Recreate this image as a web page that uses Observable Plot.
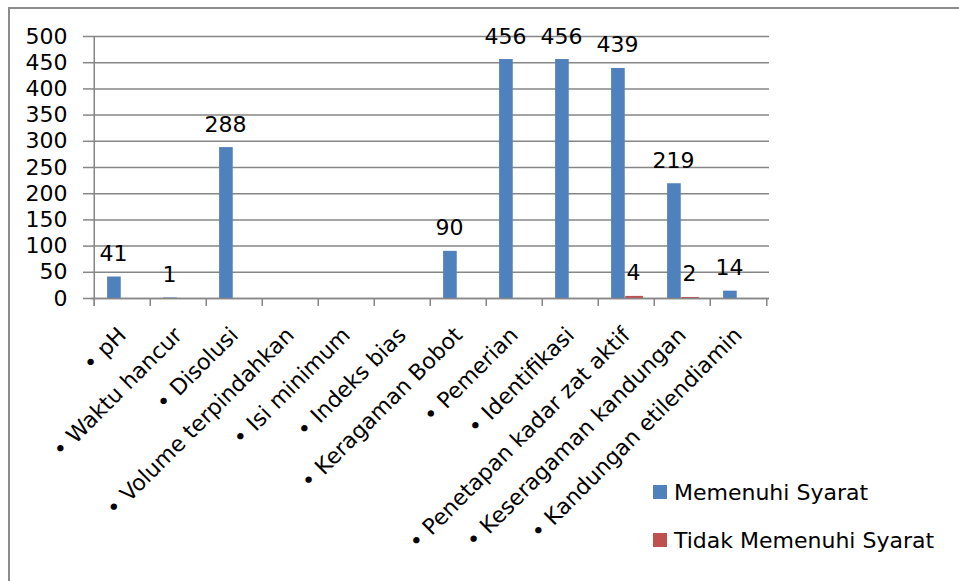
<!DOCTYPE html>
<html><head><meta charset="utf-8">
<script src="https://cdn.jsdelivr.net/npm/d3@7"></script>
<script src="https://cdn.jsdelivr.net/npm/@observablehq/plot@0.6"></script>
<style>
body{margin:0;background:#fff;}
#wrap{position:relative;width:959px;height:581px;overflow:hidden;font-family:"DejaVu Sans";}
#border{position:absolute;left:8px;top:7px;width:1000px;height:700px;border-top:2px solid #8c8c8c;border-left:2px solid #8c8c8c;}
#chart{position:absolute;left:0;top:0;}
#legend{position:absolute;left:653px;top:468px;font-size:22px;color:#000;}
.row{display:flex;align-items:center;height:48px;}
.sw{width:14px;height:14px;margin-right:7px;}
</style></head>
<body><div id="wrap"><div id="border"></div><div id="chart"></div><div id="legend"></div></div>
<script>
const categories = ["pH","Waktu hancur","Disolusi","Volume terpindahkan","Isi minimum","Indeks bias","Keragaman Bobot","Pemerian","Identifikasi","Penetapan kadar zat aktif","Keseragaman kandungan","Kandungan etilendiamin"];
const memenuhi = [41,1,288,null,null,null,90,456,456,439,219,14];
const tidakMemenuhi = [null,null,null,null,null,null,null,null,null,4,2,null];
const series = ["Memenuhi Syarat","Tidak Memenuhi Syarat"];
const colors = ["#4F81BD","#C0504D"];
const yTicks = [0,50,100,150,200,250,300,350,400,450,500];

const rows = categories.map((c,i)=>({cat:c, a:memenuhi[i], b:tidakMemenuhi[i]}));

const W=959,H=581,ml=91,mr=190,mt=36,mb=283;
const bw=(W-ml-mr)/categories.length;
const barW=bw/3.5;
const gray="#868686";
const fs=22;

const plot = Plot.plot({
  width:W,height:H,marginLeft:ml,marginRight:mr,marginTop:mt,marginBottom:mb,
  style:{fontFamily:"DejaVu Sans",fontSize:fs+"px",color:"#000",background:"transparent"},
  x:{type:"band",domain:categories,padding:0},
  y:{domain:[0,500]},
  marks:[
    Plot.gridY(yTicks,{stroke:gray,strokeOpacity:1,strokeWidth:1.5}),
    Plot.axisY(yTicks,{tickSize:8,tickPadding:16,stroke:gray,strokeWidth:1.5,fill:"#000",fontSize:fs,label:null}),
    Plot.barY(rows,{x:"cat",y:"a",fill:colors[0],insetLeft:bw/2-barW+1,insetRight:bw/2+1}),
    Plot.barY(rows,{x:"cat",y:"b",fill:colors[1],insetLeft:bw/2-1,insetRight:bw/2-barW-1}),
    Plot.ruleY([0],{stroke:gray,strokeWidth:1.5}),
    Plot.ruleX([categories[0]],{x:d=>d,dx:-bw/2,y1:500,y2:0,insetBottom:-8,stroke:gray,strokeWidth:1.5}),
    Plot.ruleX(categories,{x:d=>d,dx:-bw/2,y1:0,y2:0,insetBottom:-8,stroke:gray,strokeWidth:1.5}),
    Plot.ruleX([categories[categories.length-1]],{x:d=>d,dx:bw/2,y1:0,y2:0,insetBottom:-8,stroke:gray,strokeWidth:1.5}),
    Plot.text(rows.filter(d=>d.a!=null),{x:"cat",y:"a",text:d=>String(d.a),dx:-barW/2-1,dy:-16,lineAnchor:"bottom",fontSize:fs,fill:"#000"}),
    Plot.text(rows.filter(d=>d.b!=null),{x:"cat",y:"b",text:d=>String(d.b),dx:barW/2-1,dy:-16,lineAnchor:"bottom",fontSize:fs,fill:"#000"}),
    Plot.axisX({tickSize:0,tickRotate:-45,tickPadding:33,fontSize:fs,fill:"#000",tickFormat:d=>"\u2022 "+d,label:null})
  ]
});
document.getElementById("chart").appendChild(plot);

const lg=document.getElementById("legend");
series.forEach((s,i)=>{
  const r=document.createElement("div");r.className="row";
  const sw=document.createElement("div");sw.className="sw";sw.style.background=colors[i];
  const t=document.createElement("span");t.textContent=s;
  r.appendChild(sw);r.appendChild(t);lg.appendChild(r);
});
</script>
</body></html>
